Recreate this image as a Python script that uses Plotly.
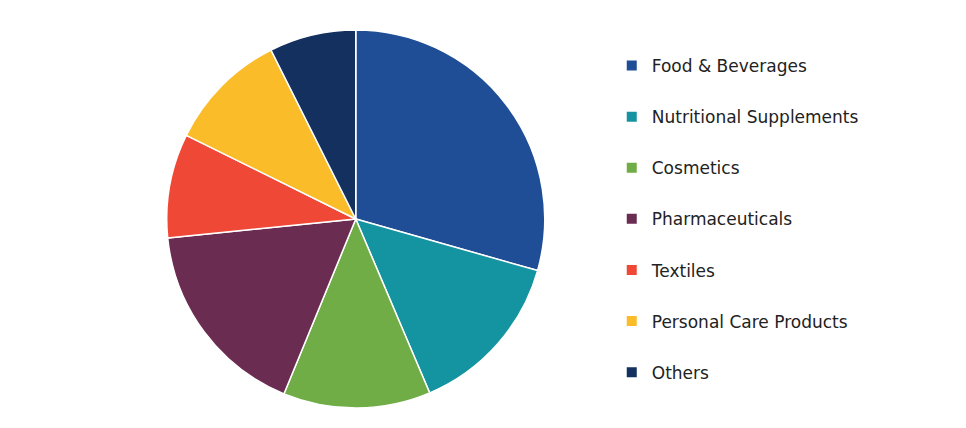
import plotly.graph_objects as go

labels = ["Food & Beverages", "Nutritional Supplements", "Cosmetics", "Pharmaceuticals",
          "Textiles", "Personal Care Products", "Others"]
shares = [29.4, 14.2, 12.6, 17.2, 8.9, 10.3, 7.4]
colors = ["#1F4E96", "#1493A0", "#70AD47", "#6B2C51", "#EF4836", "#FBBC2A", "#13305E"]

fig = go.Figure(go.Pie(
    labels=labels, values=shares, sort=False, direction="clockwise", rotation=0,
    marker=dict(colors=colors, line=dict(color="white", width=1.5)),
    textinfo="none", hoverinfo="label+percent", showlegend=False,
    domain=dict(x=[0.16, 0.56], y=[0, 1]),
))
# legend entries as separate groups so they can be spaced like the reference
for lab, col in zip(labels, colors):
    fig.add_trace(go.Scatter(
        x=[None], y=[None], mode="markers", name=lab, legendgroup=lab,
        marker=dict(symbol="square", size=10, color=col),
    ))
fig.update_xaxes(visible=False)
fig.update_yaxes(visible=False)
fig.update_layout(
    width=966, height=428, paper_bgcolor="white", plot_bgcolor="white",
    margin=dict(l=0, r=0, t=22, b=28),
    font=dict(family="DejaVu Sans", size=17, color="#222"),
    legend=dict(x=0.625, y=0.5, yanchor="middle", tracegroupgap=26,
                itemwidth=30, font=dict(size=17)),
)
fig.write_html("out.html")
